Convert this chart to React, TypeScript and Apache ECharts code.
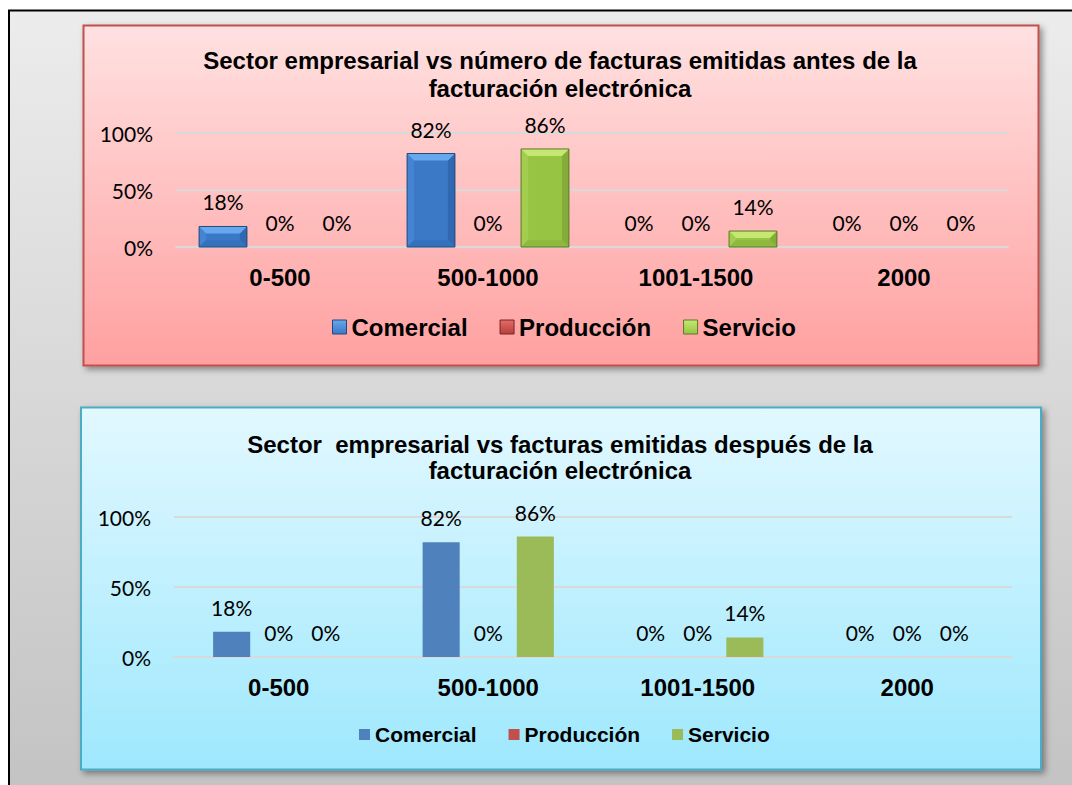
import React, { useEffect, useRef } from "react";
import * as echarts from "echarts";

const categories = ["0-500", "500-1000", "1001-1500", "2000"];
const seriesNames = ["Comercial", "Producción", "Servicio"];
const antesComercial = [18, 82, 0, 0];
const antesProduccion = [0, 0, 0, 0];
const antesServicio = [0, 86, 14, 0];
const despuesComercial = [18, 82, 0, 0];
const despuesProduccion = [0, 0, 0, 0];
const despuesServicio = [0, 86, 14, 0];
const yTicks = [0, 50, 100];

const titleAntes = "Sector empresarial vs número de facturas emitidas antes de la\nfacturación electrónica";
const titleDespues = "Sector  empresarial vs facturas emitidas después de la\nfacturación electrónica";

const flatColors = ["#4f81bd", "#c0504d", "#9bbb59"];
const bevelPalettes = [
  { base: "#3b78c6", light: "#66a8ee", left: "#4584d2", right: "#3068b2", bottom: "#3572bd", stroke: "#244a7c" },
  { base: "#b9403c", light: "#e26c68", left: "#c24a46", right: "#a23633", bottom: "#ac3c38", stroke: "#7a2422" },
  { base: "#98c444", light: "#c4e872", left: "#a2cd4e", right: "#84ac38", bottom: "#8eb83e", stroke: "#5a7826" },
];

const LABEL_FONT = "Lato, 'Liberation Sans', sans-serif";
const BOLD_FONT = "'Liberation Sans', Arial, sans-serif";

function bevelRenderer(sIdx: number) {
  const pal = bevelPalettes[sIdx];
  return (params: any, api: any) => {
    const cat = api.value(0);
    const v = api.value(1);
    const p0 = api.coord([cat, 0]);
    const p1 = api.coord([cat, v]);
    const band = api.size([1, 0])[0];
    const bw = band * 0.23;
    const step = band * 0.274;
    const cx = p0[0] + (sIdx - 1) * step;
    const x = cx - bw / 2;
    const y = p1[1];
    const h = p0[1] - p1[1];
    const children: any[] = [];
    if (h > 0.5) {
      const b = Math.min(7, h / 2, bw / 2);
      children.push({
        type: "rect",
        shape: { x, y, width: bw, height: h },
        style: { fill: pal.base },
      });
      children.push({
        type: "polygon",
        shape: { points: [[x, y], [x + b, y + b], [x + b, y + h - b], [x, y + h]] },
        style: { fill: pal.left },
      });
      children.push({
        type: "polygon",
        shape: { points: [[x + bw, y], [x + bw, y + h], [x + bw - b, y + h - b], [x + bw - b, y + b]] },
        style: { fill: pal.right },
      });
      children.push({
        type: "polygon",
        shape: { points: [[x, y + h], [x + b, y + h - b], [x + bw - b, y + h - b], [x + bw, y + h]] },
        style: { fill: pal.bottom },
      });
      children.push({
        type: "polygon",
        shape: { points: [[x, y], [x + bw, y], [x + bw - b, y + b], [x + b, y + b]] },
        style: { fill: pal.light },
      });
      children.push({
        type: "rect",
        shape: { x, y, width: bw, height: h },
        style: { fill: "none", stroke: pal.stroke, lineWidth: 1 },
      });
    }
    children.push({
      type: "text",
      style: {
        text: v + "%",
        x: cx,
        y: y - 14,
        font: "21px " + LABEL_FONT,
        fill: "#000",
        align: "center",
        verticalAlign: "bottom",
        textAlign: "center",
        textVerticalAlign: "bottom",
      },
    });
    return { type: "group", children };
  };
}

function lg(c1: string, c2: string) {
  return new echarts.graphic.LinearGradient(0, 0, 0, 1, [
    { offset: 0, color: c1 },
    { offset: 1, color: c2 },
  ]);
}

export default function App() {
  const ref = useRef<HTMLDivElement>(null);

  useEffect(() => {
    if (!ref.current) return;
    const chart = echarts.init(ref.current, null, { renderer: "svg" });

    const antes = [antesComercial, antesProduccion, antesServicio];
    const despues = [despuesComercial, despuesProduccion, despuesServicio];

    const yAxisBase = (gridIndex: number) => ({
      type: "value",
      gridIndex,
      min: yTicks[0],
      max: yTicks[yTicks.length - 1],
      interval: yTicks[1] - yTicks[0],
      axisLine: { show: false },
      axisTick: { show: false },
      axisLabel: {
        formatter: "{value}%",
        margin: 23,
        color: "#000",
        fontFamily: LABEL_FONT,
        fontSize: 21,
      },
      splitLine: { lineStyle: { color: "#d9d9d9", width: 2 } },
    });

    const xAxisBase = (gridIndex: number) => ({
      type: "category",
      gridIndex,
      data: categories,
      axisLine: { lineStyle: { color: "#d9d9d9", width: 2 } },
      axisTick: { show: false },
      axisLabel: {
        margin: 18,
        color: "#000",
        fontFamily: BOLD_FONT,
        fontWeight: "bold",
        fontSize: 24,
      },
    });

    const option: any = {
      animation: false,
      graphic: {
        elements: [
          {
            type: "rect",
            z: -30,
            silent: true,
            shape: { x: 9, y: 10.5, width: 1100, height: 800 },
            style: { fill: lg("#ececec", "#c2c2c2"), stroke: "#000", lineWidth: 2 },
          },
          {
            type: "rect",
            z: -29,
            silent: true,
            shape: { x: 83.5, y: 25.5, width: 955, height: 340 },
            style: {
              fill: lg("#ffe1e1", "#ffa0a0"),
              stroke: "#c0504d",
              lineWidth: 2,
              shadowBlur: 6,
              shadowOffsetX: 3,
              shadowOffsetY: 3,
              shadowColor: "rgba(0,0,0,0.4)",
            },
          },
          {
            type: "rect",
            z: -29,
            silent: true,
            shape: { x: 81, y: 407.5, width: 960, height: 362 },
            style: {
              fill: lg("#e2f8ff", "#9ee8fd"),
              stroke: "#4bacc6",
              lineWidth: 2,
              shadowBlur: 6,
              shadowOffsetX: 3,
              shadowOffsetY: 3,
              shadowColor: "rgba(0,0,0,0.4)",
            },
          },
        ],
      },
      title: [
        {
          text: titleAntes,
          left: 560,
          top: 46,
          padding: 0,
          textAlign: "center",
          textStyle: {
            fontFamily: BOLD_FONT,
            fontWeight: "bold",
            fontSize: 24,
            lineHeight: 28,
            color: "#000",
          },
        },
        {
          text: titleDespues,
          left: 560,
          top: 431,
          padding: 0,
          textAlign: "center",
          textStyle: {
            fontFamily: BOLD_FONT,
            fontWeight: "bold",
            fontSize: 24,
            lineHeight: 26,
            color: "#000",
          },
        },
      ],
      legend: [
        {
          left: 332,
          top: 315,
          padding: 0,
          itemWidth: 14,
          itemHeight: 14,
          itemGap: 32,
          textStyle: { fontFamily: BOLD_FONT, fontWeight: "bold", fontSize: 24, color: "#000" },
          data: seriesNames.map((n, i) => ({
            name: n,
            icon: "rect",
            itemStyle: { color: lg(bevelPalettes[i].light, bevelPalettes[i].base), borderColor: bevelPalettes[i].stroke, borderWidth: 1 },
          })),
        },
        {
          left: 359,
          top: 724,
          padding: 0,
          itemWidth: 11,
          itemHeight: 11,
          itemGap: 32,
          textStyle: { fontFamily: BOLD_FONT, fontWeight: "bold", fontSize: 21, color: "#000" },
          data: seriesNames.map((n, i) => ({
            name: n,
            icon: "rect",
            itemStyle: { color: flatColors[i], borderWidth: 0 },
          })),
        },
      ],
      grid: [
        { left: 176, right: 64, top: 133, height: 114, containLabel: false },
        { left: 174, right: 60, top: 517, height: 140, containLabel: false },
      ],
      xAxis: [xAxisBase(0), xAxisBase(1)],
      yAxis: [yAxisBase(0), yAxisBase(1)],
      series: [
        ...seriesNames.map((n, i) => ({
          type: "custom",
          name: n,
          xAxisIndex: 0,
          yAxisIndex: 0,
          itemStyle: { color: bevelPalettes[i].base },
          encode: { x: 0, y: 1 },
          data: antes[i].map((v, ci) => [ci, v]),
          renderItem: bevelRenderer(i),
        })),
        ...seriesNames.map((n, i) => ({
          type: "bar",
          name: n,
          xAxisIndex: 1,
          yAxisIndex: 1,
          barWidth: "17.7%",
          barGap: "27%",
          itemStyle: { color: flatColors[i] },
          label: {
            show: true,
            position: "top",
            distance: 14,
            formatter: "{c}%",
            color: "#000",
            fontFamily: LABEL_FONT,
            fontSize: 21,
          },
          data: despues[i],
        })),
      ],
    };

    chart.setOption(option);
    return () => chart.dispose();
  }, []);

  return (
    <div
      ref={ref}
      style={{ position: "fixed", left: 0, top: 0, width: 1072, height: 785, background: "#fff" }}
    />
  );
}
